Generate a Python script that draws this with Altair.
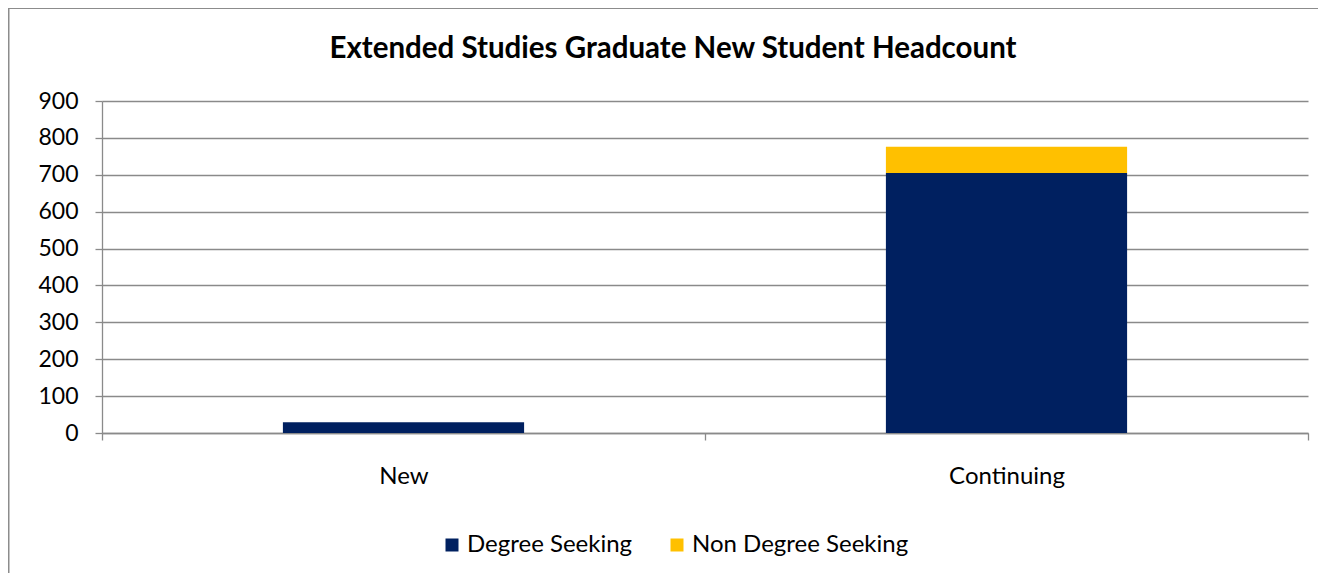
import altair as alt
import pandas as pd

categories = ["New", "Continuing"]
series = ["Degree Seeking", "Non Degree Seeking"]
degree_seeking = [29, 705]
non_degree_seeking = [0, 71]
colors = ["#002060", "#FFC000"]
y_ticks = [0, 100, 200, 300, 400, 500, 600, 700, 800, 900]
title_text = "Extended Studies Graduate New Student Headcount"

rows = []
for i, c in enumerate(categories):
    rows.append({"cat": c, "series": series[0], "value": degree_seeking[i], "ord": 0})
    rows.append({"cat": c, "series": series[1], "value": non_degree_seeking[i], "ord": 1})
df = pd.DataFrame(rows)

FONT = "Lato"
GRID = "#8a8a8a"

bars = alt.Chart(df).mark_bar(width=alt.RelativeBandSize(0.4)).encode(
    x=alt.X(
        "cat:N",
        sort=categories,
        scale=alt.Scale(paddingInner=0, paddingOuter=0),
        axis=alt.Axis(
            title=None, labelAngle=0, tickBand="extent", grid=False,
            domainColor=GRID, domainWidth=1.3, tickColor=GRID, tickWidth=1.3, tickSize=7,
            labelFont=FONT, labelFontSize=24, labelColor="#000000", labelPadding=24,
        ),
    ),
    y=alt.Y(
        "value:Q",
        stack="zero",
        scale=alt.Scale(domain=[0, 900], nice=False),
        axis=alt.Axis(
            title=None, values=y_ticks, grid=True, gridColor=GRID, gridWidth=1.3,
            domainColor=GRID, domainWidth=1.3, tickColor=GRID, tickWidth=1.3, tickSize=7,
            labelFont=FONT, labelFontSize=23, labelColor="#000000", labelPadding=17,
        ),
    ),
    color=alt.Color(
        "series:N",
        scale=alt.Scale(domain=series, range=colors),
        legend=alt.Legend(
            title=None, orient="none", legendX=338, legendY=432, direction="horizontal",
            symbolType="square", symbolSize=169, symbolStrokeWidth=0,
            labelFont=FONT, labelFontSize=24, labelColor="#000000", labelLimit=400,
            columnPadding=32, labelOffset=3,
        ),
    ),
    order=alt.Order("ord:Q"),
)

frame_data = alt.Data(values=[{"k": 1}])
left_line = alt.Chart(frame_data).mark_rule(color="#8c8c8c", strokeWidth=2).encode(
    x=alt.value(-93.5), y=alt.value(-93), y2=alt.value(480)
)
top_line = alt.Chart(frame_data).mark_rule(color="#8c8c8c", strokeWidth=2).encode(
    x=alt.value(-93.5), x2=alt.value(1230), y=alt.value(-93)
)

chart = alt.layer(bars, left_line, top_line).properties(
    width=1206,
    height=332,
    padding={"left": 94, "top": 93, "right": 10, "bottom": 140},
    autosize="none",
    title=alt.TitleParams(
        title_text, font=FONT, fontSize=29.5, fontWeight="bold", color="#000000",
        anchor="middle", frame="group", dx=-32, offset=-57,
    ),
).configure_view(stroke=None)

chart.save("out.html", embed_options={"renderer": "svg", "actions": False})
